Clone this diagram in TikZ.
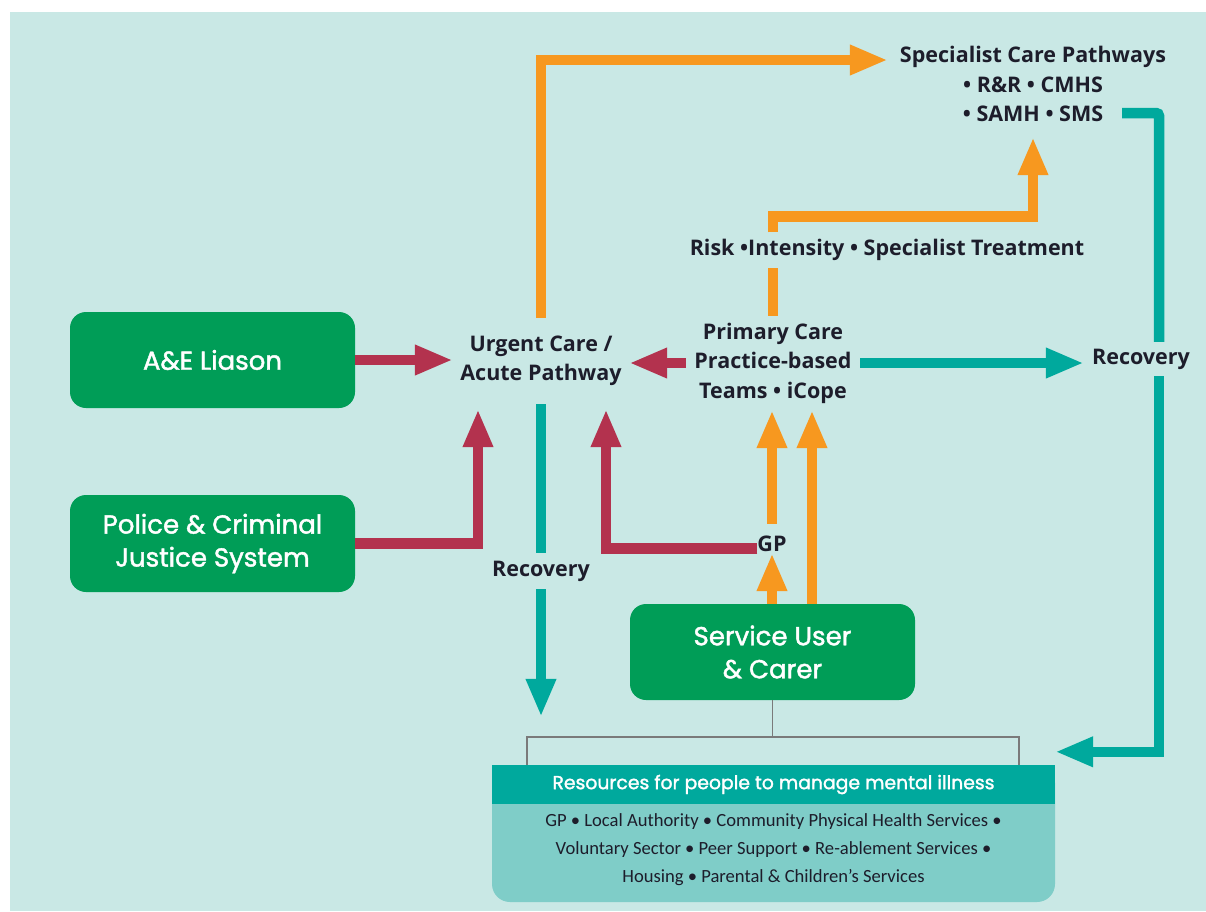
\documentclass[tikz,border=0pt]{standalone}
\usepackage{fontspec}
\setmainfont{Open Sans}
\newfontfamily\boxfont[FakeBold=1.6]{Poppins}
\newfontfamily\resfont{Carlito}
\usetikzlibrary{arrows.meta}
\definecolor{bgc}{HTML}{C9E8E5}
\definecolor{boxgreen}{HTML}{009D57}
\definecolor{maroon}{HTML}{B3324E}
\definecolor{orng}{HTML}{F7981F}
\definecolor{tealc}{HTML}{00A99D}
\definecolor{resbody}{HTML}{7FCDC8}
\definecolor{ink}{HTML}{1D1D2B}
\definecolor{brkgray}{HTML}{7A7A7A}
\tikzset{
 gbox/.style={fill=boxgreen, rounded corners=16pt, text=white, align=center, inner sep=0pt, minimum width=285pt, font=\boxfont\fontsize{26}{33}\selectfont},
 lbl/.style={text=ink, align=center, font=\bfseries\fontsize{21.5}{29.5}\selectfont, inner sep=0pt},
 conn/.style={line width=10.5pt},
 tip/.style={-{Triangle[length=38pt,width=28pt]}},
 marc/.style={conn, draw=maroon},
 orc/.style={conn, draw=orng},
 tec/.style={conn, draw=tealc},
 brk/.style={draw=brkgray, line width=1.8pt},
}
\begin{document}
\begin{tikzpicture}[x=1pt,y=-1pt]
\useasboundingbox (0,0) rectangle (1206,911);
\fill[bgc] (10,12) rectangle (1206,911);

% green boxes
\node[gbox, minimum height=96pt] (ae) at (212.5,360) {A\&E Liason};
\node[gbox, minimum height=97pt] (police) at (212.5,543.5) {Police \& Criminal\\Justice System};
\node[gbox, minimum height=96pt] (service) at (772.5,652) {Service User\\\& Carer};

% text labels
\node[lbl, minimum width=176pt, minimum height=86pt] (urgent) at (541,361) {Urgent Care /\\Acute Pathway};
\node[lbl, minimum width=174pt, minimum height=94pt] (primary) at (773,363) {Primary Care\\Practice-based\\Teams • iCope};
\node[lbl, minimum width=290pt, minimum height=106pt] (spec) at (1033,84) {Specialist Care Pathways\\• R\&R • CMHS\\• SAMH • SMS};
\node[lbl, minimum height=35pt] (risk) at (887,250) {Risk •Intensity • Specialist Treatment};
\node[lbl, minimum width=114pt, minimum height=34pt] (recR) at (1141,359) {Recovery};
\node[lbl, minimum height=36pt] (recM) at (541,571) {Recovery};
\node[lbl, text height=27pt, text depth=2pt, anchor=base] (gp) at (772,551) {GP};

% resources box
\node[fill=resbody, rounded corners=18pt, minimum width=563pt, minimum height=137pt, inner sep=0pt] (res) at (773.5,833.5) {};
\node[fill=tealc, minimum width=563pt, minimum height=39pt, inner sep=0pt, text=white, font=\boxfont\fontsize{18.8}{20}\selectfont] (reshead) at (773.5,784.5) {Resources for people to manage mental illness};
\node[text=ink, align=center, font=\resfont\fontsize{18.6}{28}\selectfont, inner sep=0pt] (restext) at (773.5,850) {GP • Local Authority • Community Physical Health Services •\\Voluntary Sector • Peer Support • Re-ablement Services •\\Housing • Parental \& Children’s Services};

% maroon connectors
\draw[marc,tip] (ae.east) -- (ae.east -| urgent.west);
\draw[marc,tip,shorten >=5pt] (police.east) -| ([xshift=-63pt]urgent.south);
\draw[marc,tip,shorten >=5pt] (gp.mid west) -| ([xshift=65pt]urgent.south);
\draw[marc,tip] (primary.west) -- (primary.west -| urgent.east);

% orange connectors
\draw[orc,tip] (urgent.north) |- ([yshift=24pt]spec.west);
\draw[orc] (primary.north) -- (primary.north |- risk.south);
\draw[orc,tip] (primary.north |- risk.north) -- ++(0,-16) -| (spec.south);
\draw[orc,tip] (gp.north) -- (gp.north |- primary.south);
\draw[orc,tip] (service.north -| gp.north) -- (gp.south);
\draw[orc,tip] ([xshift=39.5pt]service.north) -- ([xshift=39.5pt]service.north |- primary.south);

% teal connectors
\draw[tec,tip] (primary.east) -- (primary.east -| recR.west);
\draw[tec,rounded corners=3pt] ([xshift=-56pt,yshift=-29pt]spec.east) -| ([xshift=18pt]recR.north);
\draw[tec,tip] ([xshift=18pt]recR.south) |- ([yshift=13pt]reshead.north east);
\draw[tec] (urgent.south) -- (recM.north);
\draw[tec,tip] (recM.south) -- ([yshift=48pt]reshead.north -| recM.south);

% bracket
\draw[brk] (service.south) -- ++(0,37) -| ([xshift=35pt]reshead.north west);
\draw[brk] (service.south) ++(0,37) -| ([xshift=-36pt]reshead.north east);
\end{tikzpicture}
\end{document}
